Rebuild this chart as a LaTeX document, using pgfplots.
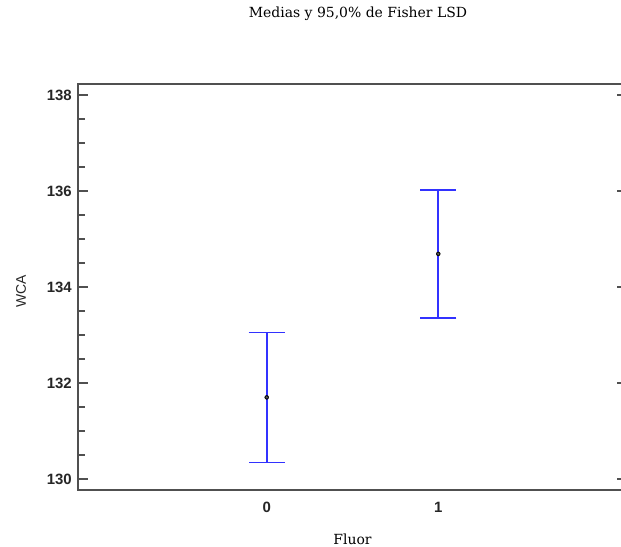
\documentclass[border=0pt]{standalone}
\usepackage{pgfplots}
\pgfplotsset{compat=1.18}
\usepackage{fontspec}
\setmainfont{DejaVu Serif}
\newfontfamily\ticksfont{Liberation Sans}
\definecolor{errblue}{RGB}{50,50,255}
\definecolor{axgray}{RGB}{80,80,80}
\definecolor{meangray}{RGB}{95,95,95}
\begin{document}
\begin{tikzpicture}
\path[use as bounding box] (-78bp,-57bp) rectangle (543bp,490bp);
\begin{axis}[
  at={(0bp,0bp)}, anchor=south west,
  scale only axis, width=549bp, height=406bp,
  xmin=-1.1, xmax=2.1, ymin=129.77, ymax=138.23,
  xtick={0,1}, xticklabels={0,1},
  ytick={130,132,134,136,138},
  minor y tick num=3,
  ytick pos=left,
  xtick style={draw=none},
  major tick length=10bp, minor tick length=7bp,
  tick style={line width=1.2bp, color=axgray},
  axis line style={line width=1.5bp, color=axgray},
  /pgf/number format/assume math mode=true,
  yticklabel style={font=\ticksfont\bfseries\fontsize{15}{15}\selectfont, text=black!85, inner sep=0pt, anchor=east, xshift=-6bp},
  xticklabel style={font=\ticksfont\bfseries\fontsize{15}{15}\selectfont, text=black!85, inner sep=0pt, anchor=north, yshift=-12bp},
  title={Medias y 95,0\% de Fisher LSD},
  title style={at={(axis description cs:0.51,1.1626)}, anchor=center, yshift=-2bp, font=\fontsize{14}{14}\selectfont, text=black},
  xlabel={Fluor},
  xlabel style={at={(axis description cs:0.5,-0.1207)}, anchor=center, font=\fontsize{14}{14}\selectfont, text=black},
  ylabel={WCA},
  ylabel style={at={(axis description cs:-0.1038,0.49)}, anchor=center, rotate=0, font=\ticksfont\fontsize{14}{14}\selectfont, text=black!85},
]
\addplot[only marks, mark=none,
  error bars/.cd, y dir=both, y explicit,
  error mark=|,
  error bar style={draw=errblue, line width=1.6bp},
  error mark options={draw=errblue, line width=1.6bp, mark size=18bp}]
  coordinates {(0,131.70) +- (0,1.355) (1,134.69) +- (0,1.335)};
\addplot[only marks, mark=*, mark size=1.8bp, mark options={fill=meangray, draw=none}]
  coordinates {(0,131.70) (1,134.69)};
\end{axis}
\begin{axis}[
  at={(0bp,0bp)}, anchor=south west,
  scale only axis, width=549bp, height=406bp,
  xmin=-1.1, xmax=2.1, ymin=129.77, ymax=138.23,
  axis line style={draw=none},
  xtick=\empty,
  ytick={130,132,134,136,138},
  yticklabels={},
  ytick pos=right,
  major tick length=10bp,
  tick style={line width=1.2bp, color=axgray},
]
\end{axis}
\end{tikzpicture}
\end{document}
